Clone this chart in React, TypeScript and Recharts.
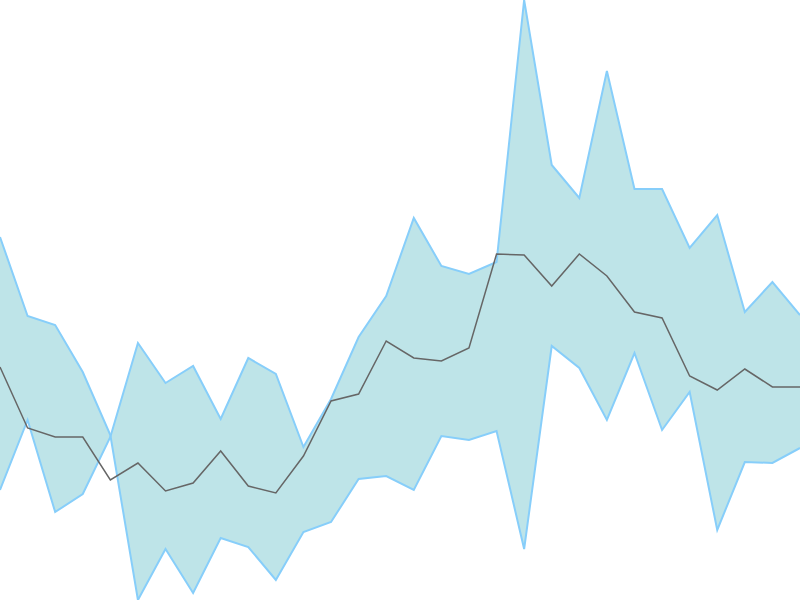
import { ComposedChart, Area, Line, XAxis, YAxis } from "recharts";

// 30 evenly spaced points, no labels shown
const steps = Array.from({ length: 30 }, (_, i) => i);

const bandA = [
  363, 284, 275, 228, 165, 0, 51, 7, 62, 53, 20, 68, 78, 121, 124, 110, 164, 160, 169, 51,
  254, 232, 180, 247, 170, 208, 70, 138, 137, 152,
];

const bandB = [
  110, 180, 88, 106, 163, 257, 217, 234, 181, 242, 226, 153, 201, 263, 304, 382, 334, 326,
  338, 600, 435, 402, 529, 411, 411, 352, 385, 288, 318, 285,
];

const middle = [
  233, 172, 163, 163, 120, 137, 109, 117, 149, 114, 107, 144, 199, 206, 259, 242, 239, 252,
  346, 345, 314, 346, 324, 288, 282, 224, 210, 231, 213, 213,
];

const data = steps.map((s, i) => ({
  step: s,
  band: [bandA[i], bandB[i]],
  mid: middle[i],
}));

export default function App() {
  return (
    <div style={{ position: "absolute", top: 0, left: 0, width: 800, height: 600 }}>
      <ComposedChart width={800} height={600} data={data} margin={{ top: 0, right: 0, bottom: 0, left: 0 }}>
        <XAxis dataKey="step" hide />
        <YAxis hide domain={[0, 600]} />
        <Area
          type="linear"
          dataKey="band"
          stroke="#87CEFA"
          strokeWidth={2}
          fill="#BEE4E8"
          fillOpacity={1}
          dot={false}
          activeDot={false}
          isAnimationActive={false}
        />
        <Line
          type="linear"
          dataKey="mid"
          stroke="#666666"
          strokeWidth={1.5}
          dot={false}
          activeDot={false}
          isAnimationActive={false}
        />
      </ComposedChart>
    </div>
  );
}
